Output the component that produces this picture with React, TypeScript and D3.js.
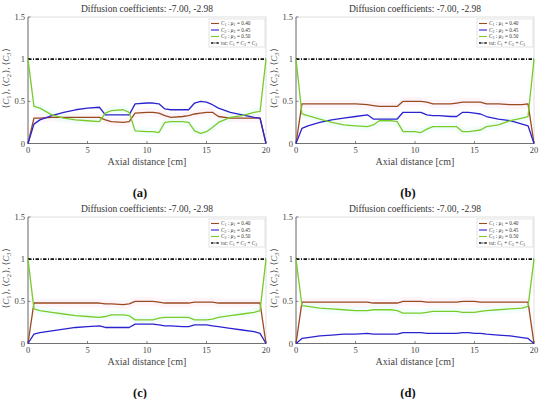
import React from "react";
import * as d3 from "d3";

const xs = [0, 0.5, 1, 2, 3, 4, 5, 6, 6.5, 7, 8, 8.5, 9, 10, 10.5, 11, 11.5, 12, 13, 13.5, 14, 14.5, 15, 15.5, 16, 17, 18, 19, 19.5, 20];

const c1a = [0, .30, .30, .31, .31, .31, .31, .31, .28, .26, .25, .26, .36, .37, .37, .36, .33, .31, .32, .33, .35, .36, .37, .37, .32, .30, .30, .30, .30, 0];
const c2a = [0, .23, .28, .33, .37, .40, .42, .43, .34, .34, .34, .34, .47, .48, .48, .47, .41, .40, .40, .40, .48, .50, .49, .46, .42, .37, .34, .31, .30, 0];
const c3a = [1, .44, .42, .34, .30, .28, .27, .26, .36, .39, .40, .37, .15, .14, .14, .13, .25, .26, .26, .25, .15, .12, .14, .19, .25, .31, .33, .37, .38, 1];

const c1b = [0, .47, .47, .47, .47, .47, .47, .46, .45, .44, .44, .44, .50, .50, .50, .49, .47, .47, .47, .48, .49, .49, .49, .49, .47, .47, .46, .46, .47, 0];
const c2b = [0, .18, .21, .25, .28, .30, .32, .34, .29, .29, .29, .29, .37, .37, .37, .34, .33, .33, .32, .32, .37, .37, .36, .35, .32, .29, .27, .23, .21, 0];
const c3b = [1, .35, .33, .29, .25, .22, .21, .20, .22, .27, .27, .26, .14, .14, .13, .17, .20, .20, .20, .20, .14, .14, .15, .16, .20, .22, .27, .30, .32, 1];

const c1c = [0, .48, .48, .48, .48, .48, .48, .48, .47, .47, .46, .47, .50, .50, .50, .49, .48, .48, .48, .48, .49, .49, .49, .49, .48, .48, .48, .48, .48, 0];
const c2c = [0, .11, .13, .15, .17, .19, .20, .21, .19, .19, .19, .19, .23, .23, .23, .22, .21, .21, .20, .20, .22, .22, .22, .21, .20, .18, .16, .14, .12, 0];
const c3c = [1, .41, .39, .37, .35, .33, .32, .31, .32, .34, .34, .33, .28, .28, .28, .30, .31, .31, .31, .31, .28, .28, .28, .29, .31, .33, .35, .37, .39, 1];

const c1d = [0, .49, .49, .49, .49, .49, .49, .49, .48, .48, .48, .48, .50, .50, .50, .49, .49, .49, .49, .49, .50, .50, .50, .49, .49, .49, .49, .49, .49, 0];
const c2d = [0, .06, .07, .09, .10, .11, .11, .12, .11, .11, .11, .11, .13, .13, .13, .12, .12, .12, .12, .12, .13, .13, .12, .12, .11, .10, .09, .07, .06, 0];
const c3d = [1, .45, .44, .42, .41, .40, .39, .39, .40, .40, .40, .39, .36, .36, .36, .37, .38, .38, .38, .38, .37, .37, .37, .38, .39, .40, .41, .42, .44, 1];

const totLine = [1, 1];
const totX = [0, 20];

const xTicks = [0, 5, 10, 15, 20];
const yTicks = [0, 0.5, 1, 1.5];
const yTickLabels = ["0", "0.5", "1", "1.5"];
const titleText = "Diffusion coefficients: -7.00, -2.98";
const xLabel = "Axial distance [cm]";
const panelLabels = ["(a)", "(b)", "(c)", "(d)"];
const mus = ["0.40", "0.45", "0.50"];

const COLORS = ["#9a4a1f", "#2b22d0", "#78cc2a"];
const FONT = "Liberation Serif, DejaVu Serif, Times New Roman, serif";
const fs = { fontFamily: FONT };

const panels = [
  { ox: 0, oy: 0, data: [c1a, c2a, c3a], lab: panelLabels[0] },
  { ox: 268, oy: 0, data: [c1b, c2b, c3b], lab: panelLabels[1] },
  { ox: 0, oy: 200, data: [c1c, c2c, c3c], lab: panelLabels[2] },
  { ox: 268, oy: 200, data: [c1d, c2d, c3d], lab: panelLabels[3] },
];

function Sub({ n, dy }: { n: string; dy: number }) {
  return (
    <>
      <tspan dy={dy} fontSize="72%">{n}</tspan>
      <tspan dy={-dy}>{"\u200A"}</tspan>
    </>
  );
}

function Panel({ ox, oy, data, lab }: any) {
  const left = ox + 28, right = ox + 266, top = oy + 17, bottom = oy + 143.5;
  const x = d3.scaleLinear().domain([0, 20]).range([left, right]);
  const y = d3.scaleLinear().domain([0, 1.5]).range([bottom, top]);
  const line = d3.line<number>().x((_, i) => x(xs[i])).y((v) => y(v));
  const band = d3.area<number>().x((_, i) => x(xs[i])).y0((v) => y(Math.max(0, v - 0.05))).y1((v) => y(v + 0.05));
  const totGen = d3.line<number>().x((_, i) => x(totX[i])).y((v) => y(v));
  const cx = (left + right) / 2;
  const lgL = right - 57, lgT = top + 2;
  return (
    <g style={fs}>
      <path d={band(data[0]) || ""} fill="#fde9f3" opacity={0.45} />
      <path d={band(data[2]) || ""} fill="#e4fbf6" opacity={0.45} />
      <rect x={left} y={top} width={right - left} height={bottom - top} fill="none" stroke="#d8d8d8" strokeWidth={0.8} />
      <line x1={left} x2={left} y1={top} y2={bottom} stroke="#555" strokeWidth={0.8} />
      <line x1={left} x2={right} y1={bottom} y2={bottom} stroke="#555" strokeWidth={0.8} />
      {yTicks.map((t, i) => (
        <g key={"y" + i}>
          <line x1={left} x2={left + 2.5} y1={y(t)} y2={y(t)} stroke="#555" strokeWidth={0.7} />
          <text x={left - 3} y={y(t) + 3} textAnchor="end" fontSize={8.5} fill="#444" style={fs}>{yTickLabels[i]}</text>
        </g>
      ))}
      {xTicks.map((t) => (
        <g key={"x" + t}>
          <line x1={x(t)} x2={x(t)} y1={bottom} y2={bottom - 2.5} stroke="#555" strokeWidth={0.7} />
          <text x={x(t)} y={bottom + 9} textAnchor="middle" fontSize={8.5} fill="#444" style={fs}>{t}</text>
        </g>
      ))}
      <path d={totGen(totLine) || ""} fill="none" stroke="#111" strokeWidth={1.6} strokeDasharray="3.5,1.5,1,1.5" />
      {data.map((s: number[], k: number) => (
        <path key={k} d={line(s) || ""} fill="none" stroke={COLORS[k]} strokeWidth={1.3} strokeLinejoin="round" />
      ))}
      <text x={cx} y={oy + 11.5} textAnchor="middle" fontSize={9.5} fill="#333" style={fs}>{titleText}</text>
      <text x={cx} y={oy + 165} textAnchor="middle" fontSize={10} fill="#444" style={fs}>{xLabel}</text>
      <text transform={`translate(${left - 19},${(top + bottom) / 2 - 2}) rotate(-90)`} textAnchor="middle" fontSize={9} fill="#444" style={fs}>
        ⟨<tspan fontStyle="italic">C</tspan><Sub n="1" dy={2} />⟩, ⟨<tspan fontStyle="italic">C</tspan><Sub n="2" dy={2} />⟩, ⟨<tspan fontStyle="italic">C</tspan><Sub n="3" dy={2} />⟩
      </text>
      <text x={ox + 140} y={oy + 197} textAnchor="middle" fontSize={12.5} fontWeight="bold" fill="#111" style={fs}>{lab}</text>
      <rect x={lgL} y={lgT} width={56} height={28} fill="#fff" stroke="#cfcfcf" strokeWidth={0.6} />
      {[0, 1, 2, 3].map((k) => {
        const yy = lgT + 4.5 + k * 6.5;
        return (
          <g key={"l" + k}>
            <line x1={lgL + 2} x2={lgL + 10} y1={yy} y2={yy} stroke={k < 3 ? COLORS[k] : "#111"} strokeWidth={k < 3 ? 1.1 : 1.3} strokeDasharray={k < 3 ? undefined : "2.5,1,0.8,1"} />
            <text x={lgL + 12} y={yy + 1.6} fontSize={5.2} fill="#333" style={fs}>
              {k < 3 ? (
                <>
                  <tspan fontStyle="italic">C</tspan><Sub n={String(k + 1)} dy={1} /> : <tspan fontStyle="italic">μ</tspan><Sub n={String(k + 1)} dy={1} /> = {mus[k]}
                </>
              ) : (
                <>
                  tot: <tspan fontStyle="italic">C</tspan><Sub n="1" dy={1} /> + <tspan fontStyle="italic">C</tspan><Sub n="2" dy={1} /> + <tspan fontStyle="italic">C</tspan><Sub n="3" dy={1} />
                </>
              )}
            </text>
          </g>
        );
      })}
    </g>
  );
}

export default function App() {
  return (
    <svg width={550} height={399} style={{ position: "absolute", left: 0, top: 0, background: "#fff" }}>
      <rect width={550} height={399} fill="#fff" />
      {panels.map((p, i) => (
        <Panel key={i} {...p} />
      ))}
    </svg>
  );
}
